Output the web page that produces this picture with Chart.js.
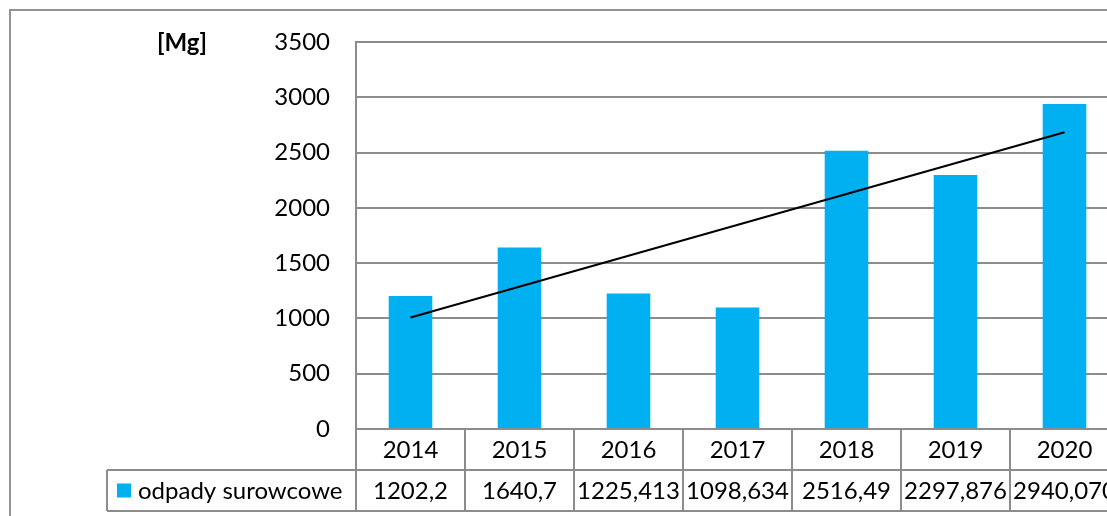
<!DOCTYPE html>
<html>
<head>
<meta charset="utf-8">
<script src="https://cdn.jsdelivr.net/npm/chart.js@4"></script>
<style>
  html, body { margin: 0; padding: 0; background: #fff; overflow: hidden; }
  #wrap { position: absolute; left: 9px; top: 9px; width: 1200px; height: 530px; border: 2px solid #939393; }
</style>
</head>
<body>
<div id="wrap"><canvas id="chart"></canvas></div>
<script>
'use strict';

var years = ['2014', '2015', '2016', '2017', '2018', '2019', '2020'];
var values = [1202.2, 1640.7, 1225.413, 1098.634, 2516.49, 2297.876, 2940.07];
var valueLabels = ['1202,2', '1640,7', '1225,413', '1098,634', '2516,49', '2297,876', '2940,070'];
// trend line ends
var trend = [1008, null, null, null, null, null, 2684];
var seriesName = 'odpady surowcowe';
var unitLabel = '[Mg]';

var barColor = '#00b0f0';
var gridColor = '#8c8c8c';
var font = 'Lato';
var fontSize = 24;

var tablePlugin = {
  id: 'table',
  afterDraw: function(chart) {
    var ctx = chart.ctx;
    var x = chart.scales.x;
    var area = chart.chartArea;
    var rowH = 41;
    var top = area.bottom;
    var half = (x.getPixelForValue(1) - x.getPixelForValue(0)) / 2;
    var legendLeft = 96;

    ctx.save();
    ctx.strokeStyle = gridColor;
    ctx.lineWidth = 2;
    ctx.beginPath();
    // horizontal lines
    ctx.moveTo(area.left, top);
    ctx.lineTo(area.right, top);
    ctx.moveTo(legendLeft, top + rowH);
    ctx.lineTo(area.right, top + rowH);
    ctx.moveTo(legendLeft, top + rowH * 2);
    ctx.lineTo(area.right, top + rowH * 2);
    // vertical lines
    ctx.moveTo(legendLeft, top + rowH);
    ctx.lineTo(legendLeft, top + rowH * 2);
    for (var i = 0; i <= years.length; i++) {
      var px = x.getPixelForValue(0) - half + i * half * 2;
      ctx.moveTo(px, top);
      ctx.lineTo(px, top + rowH * 2);
    }
    ctx.stroke();

    ctx.fillStyle = '#000';
    ctx.font = fontSize + 'px ' + font;
    ctx.textAlign = 'center';
    ctx.textBaseline = 'middle';
    for (var j = 0; j < years.length; j++) {
      var cx = x.getPixelForValue(j);
      ctx.fillText(years[j], cx, top + rowH / 2 + 1);
      ctx.fillText(valueLabels[j], cx, top + rowH * 1.5 + 1);
    }

    // legend cell
    ctx.fillStyle = barColor;
    ctx.fillRect(106, top + rowH * 1.5 - 7, 14, 14);
    ctx.fillStyle = '#000';
    ctx.textAlign = 'left';
    ctx.fillText(seriesName, 127, top + rowH * 1.5 + 1);

    // unit
    ctx.font = 'bold ' + fontSize + 'px ' + font;
    ctx.textAlign = 'center';
    ctx.fillText(unitLabel, 171, area.top + 1);
    ctx.restore();
  }
};

var ctx = document.getElementById('chart').getContext('2d');

var chart = new Chart(ctx, {
  type: 'bar',
  data: {
    labels: years,
    datasets: [{
      type: 'line',
      label: 'trend',
      data: trend,
      spanGaps: true,
      borderColor: '#000',
      borderWidth: 2,
      pointRadius: 0,
      order: 0
    }, {
      label: seriesName,
      data: values,
      backgroundColor: barColor,
      borderWidth: 0,
      barPercentage: 0.4,
      categoryPercentage: 1,
      order: 1
    }]
  },
  options: {
    responsive: true,
    maintainAspectRatio: false,
    animation: false,
    layout: { padding: { left: 0, top: 31, right: 92, bottom: 12 } },
    plugins: {
      legend: { display: false },
      tooltip: { enabled: false }
    },
    scales: {
      x: {
        grid: { display: false },
        border: { display: false },
        ticks: { display: false },
        afterFit: function(scale) { scale.height = 100; }
      },
      y: {
        min: 0,
        max: 3500,
        ticks: {
          stepSize: 500,
          padding: 0,
          color: '#000',
          font: { family: font, size: fontSize },
          callback: function(v) { return String(v); }
        },
        grid: { color: gridColor, lineWidth: 2, drawTicks: true, tickLength: 26, tickColor: 'rgba(0,0,0,0)' },
        border: { color: gridColor, width: 2 },
        afterFit: function(scale) { scale.width = 345; }
      }
    }
  },
  plugins: [tablePlugin]
});
</script>
</body>
</html>
